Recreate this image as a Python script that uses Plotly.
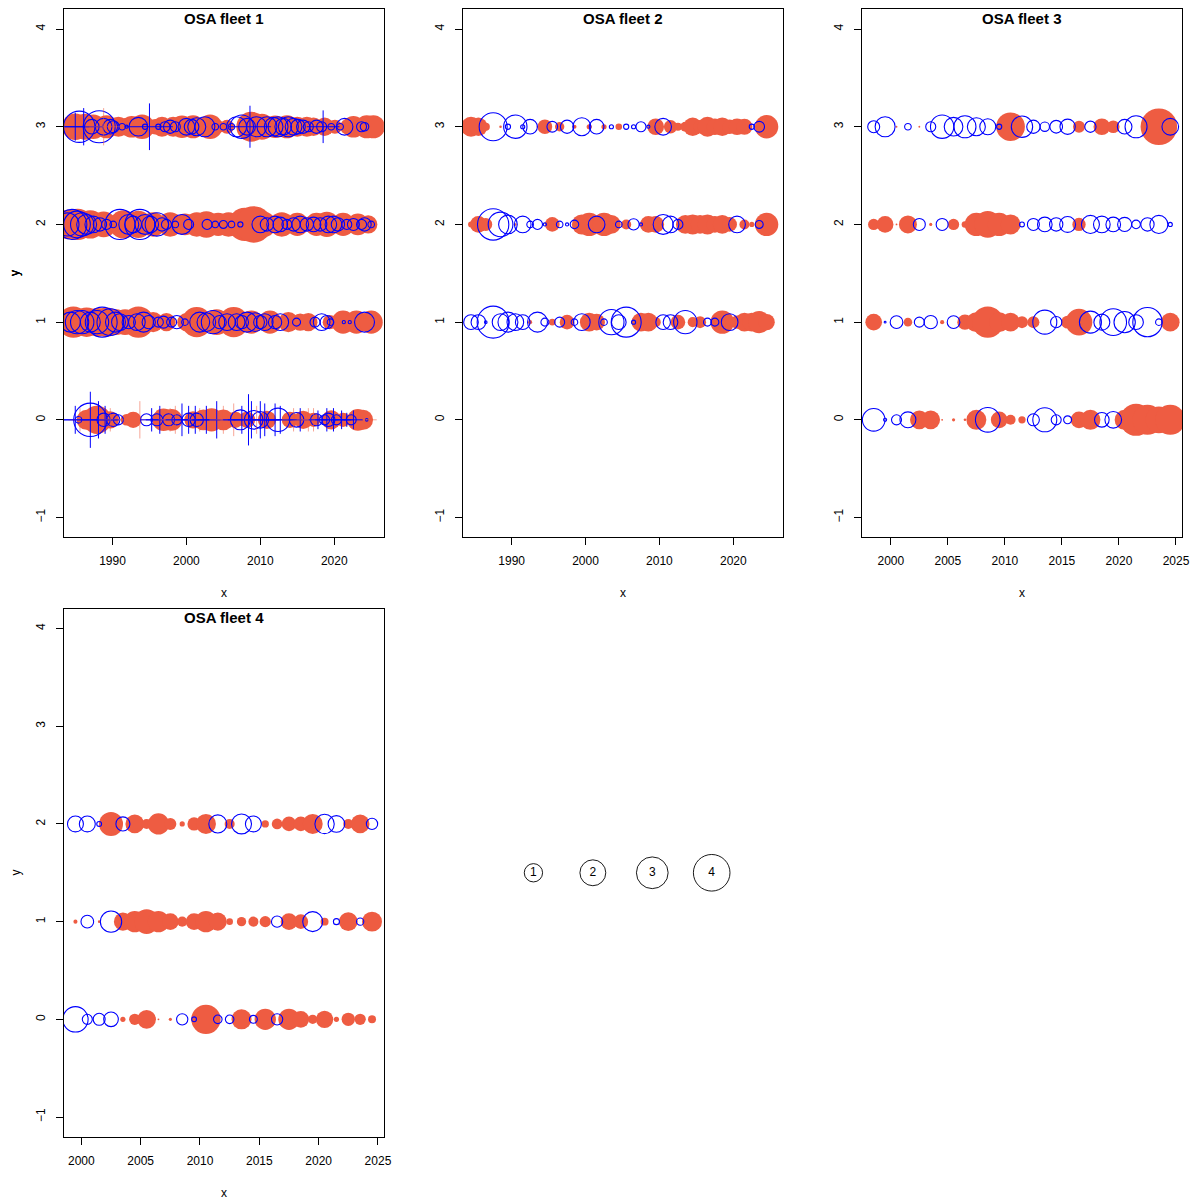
"""OSA residual bubble plots, four fleets + size key."""
import numpy as np
import plotly.graph_objects as go

# ---- fleet 1 (irregular sampling): x positions and residuals per age row ----
F1_X3 = [1984.96, 1985.5, 1986.3, 1987.2, 1987.4, 1988.2, 1988.8, 1989.2, 1989.7, 1990.1,
         1990.8, 1991.3, 1991.7, 1991.9, 1992.6, 1993.5, 1994.0, 1994.4, 1995.8, 1996.2,
         1996.7, 1997.1, 1997.8, 1998.2, 1998.5, 1999.4, 2000.0, 2000.7, 2000.9, 2001.4,
         2002.5, 2003.2, 2003.9, 2004.3, 2005.0, 2005.5, 2006.1, 2006.8, 2007.5, 2008.2,
         2008.8, 2009.5, 2010.2, 2010.9, 2011.8, 2012.0, 2012.4, 2013.1, 2013.6, 2013.8,
         2014.5, 2015.0, 2015.1, 2015.8, 2016.3, 2016.5, 2017.2, 2017.6, 2018.3, 2018.7,
         2019.6, 2020.1, 2020.8, 2021.4, 2021.9, 2022.6, 2023.7, 2024.1, 2024.4, 2025.3]
F1_V3 = [-2.1, 2.93, -2.0, 0.64, -1.8, 3.06, 0.83, -1.6, 0.64, 0.43,
         -1.2, 0.13, -0.9, 0.03, -1.4, 1.04, -1.8, 0.08, -0.7, 0.08,
         -1.2, 0.30, 0.53, -1.2, 0.30, -1.5, 0.83, 0.64, -1.6, 0.97,
         1.19, -1.8, 0.13, -0.5, 0.13, -0.6, 0.13, 1.19, 1.63, 0.83,
         -2.7, 1.19, -2.0, 1.19, 1.04, -1.5, 1.19, 0.83, -1.6, 1.19,
         0.83, -1.2, 0.64, 0.53, -1.2, 0.30, -1.0, 0.53, 0.30, -1.0,
         0.13, -0.6, 0.13, 0.83, -0.8, -1.4, 0.30, 0.22, -1.6, -1.6]

F1_X2 = [1983.9, 1984.0, 1984.5, 1985.2, 1985.3, 1985.9, 1986.5, 1987.0, 1987.4, 1988.3,
         1988.8, 1989.2, 1990.1, 1991.0, 1991.5, 1992.2, 1992.8, 1993.5, 1993.7, 1994.4,
         1995.1, 1995.5, 1996.0, 1996.7, 1997.3, 1997.8, 1998.5, 1999.4, 1999.8, 2000.3,
         2001.4, 2002.7, 2002.8, 2003.9, 2004.3, 2005.0, 2005.7, 2006.1, 2007.3, 2007.9,
         2009.1, 2010.0, 2010.4, 2010.9, 2012.0, 2012.7, 2012.9, 2013.6, 2014.5, 2015.0,
         2015.4, 2016.3, 2017.2, 2017.6, 2018.1, 2019.0, 2019.2, 2019.9, 2020.5, 2021.2,
         2021.7, 2022.6, 2023.2, 2023.7, 2024.1, 2024.6, 2025.0]
F1_V2 = [1.60, -2.6, 2.69, 2.12, -2.9, 1.63, 1.19, -2.4, 0.83, 0.53,
         -2.0, 0.30, 0.13, 2.69, -2.4, 1.19, 0.83, -2.2, 2.69, 1.19,
         0.83, -1.8, 1.63, 0.53, 0.30, -1.8, 0.13, 1.19, -1.4, 0.30,
         -1.8, -2.1, 0.30, 0.13, -1.6, 0.19, -1.8, 0.13, 0.08, -3.3,
         -4.0, 0.83, -2.0, 0.53, 0.83, 0.64, -1.8, 0.30, 0.53, -1.6,
         0.83, 0.53, 0.64, -1.6, 0.53, -1.9, 0.83, 0.83, 0.53, -1.6,
         0.30, 0.43, -1.4, 0.30, 0.53, -1.0, 0.13]

F1_X1 = [1984.3, 1984.7, 1985.2, 1985.9, 1986.5, 1987.0, 1987.9, 1988.0, 1988.6, 1989.2,
         1989.7, 1990.4, 1990.5, 1991.0, 1991.7, 1992.2, 1993.3, 1993.5, 1994.2, 1994.9,
         1995.5, 1996.2, 1996.9, 1997.3, 1998.0, 1998.7, 1999.8, 2000.0, 2001.4, 2001.8,
         2002.7, 2003.6, 2004.1, 2004.5, 2005.5, 2006.4, 2006.8, 2007.5, 2008.2, 2008.8,
         2009.3, 2010.0, 2010.6, 2011.3, 2012.0, 2012.7, 2013.8, 2014.9, 2015.4, 2016.5,
         2017.4, 2018.3, 2019.0, 2019.4, 2019.5, 2021.2, 2021.3, 2022.1, 2023.0, 2024.1,
         2025.0]
F1_V1 = [1.19, -2.9, 1.63, 1.63, -2.6, 1.19, 1.63, -2.4, 2.69, -2.6,
         2.12, 1.19, -2.0, 0.83, -2.0, 0.53, 0.83, -2.9, 1.19, 0.53,
         -1.2, 0.30, 0.43, -1.0, 0.30, 0.53, 0.13, -1.0, -2.7, 1.19,
         1.04, 1.63, -2.0, 0.53, 0.83, -2.7, 0.83, 0.53, 1.19, -1.6,
         1.04, 0.53, 0.83, -1.6, 0.53, 0.83, -1.2, 0.19, -0.9, -1.0,
         0.30, 0.83, 0.53, -0.6, 0.13, -1.6, 0.03, 0.03, -1.6, 1.19,
         -1.6]

F1_X0 = [1985.4, 1986.5, 1987.0, 1987.9, 1988.8, 1989.7, 1990.1, 1990.8, 1991.9, 1992.8,
         1994.6, 1996.0, 1996.9, 1997.6, 1998.0, 1998.7, 2000.3, 2000.9, 2001.4, 2002.3,
         2003.4, 2005.0, 2006.6, 2007.3, 2008.2, 2009.1, 2010.0, 2010.9, 2012.4, 2014.0,
         2014.9, 2015.8, 2017.2, 2017.6, 2018.7, 2019.2, 2019.6, 2020.3, 2021.2, 2022.3,
         2023.2, 2023.9, 2024.4]
F1_V0 = [0.13, -1.2, 3.32, -2.4, 0.53, -0.9, 0.53, 0.30, -0.4, -0.8,
         0.43, 0.43, -1.5, 0.43, -1.4, 0.30, 0.53, -0.9, 0.53, -1.3,
         -1.6, -1.3, -0.8, 1.19, -0.8, 1.04, 0.83, -1.0, 1.63, -0.8,
         0.64, -1.0, -0.6, 0.43, 0.30, 0.53, -1.1, 0.30, -0.6, 0.30,
         -1.4, -1.2, 0.02]

# fleet 1 points drawn as "+" symbols
F1_CROSS_X = [1984.96, 1986.1, 1988.8, 1995.0, 2008.6, 2018.5,
              1984.96, 1985.6, 1987.0, 1988.1, 1989.0, 1989.7, 1993.7, 1995.3, 1996.4, 1997.8,
              1998.5, 1999.4, 2000.3, 2001.2, 2001.8, 2002.7, 2004.1, 2005.0, 2006.4, 2007.5,
              2008.4, 2008.8, 2009.5, 2010.0, 2010.6, 2012.0, 2012.7, 2014.5, 2015.4, 2016.5,
              2017.2, 2017.8, 2019.0, 2019.9, 2021.0, 2021.7, 2022.6, 2024.8]
F1_CROSS_Y = [3, 3, 3, 3, 3, 3,
              0, 0, 0, 0, 0, 0, 0, 0, 0, 0,
              0, 0, 0, 0, 0, 0, 0, 0, 0, 0,
              0, 0, 0, 0, 0, 0, 0, 0, 0, 0,
              0, 0, 0, 0, 0, 0, 0, 0]
F1_CROSS_V = [1.19, 2.12, -2.12, 3.32, 2.69, 1.63,
              1.19, -0.83, 4.8, 2.12, 1.19, -0.83, -2.12, 0.83, 1.19, -0.83,
              -1.19, 1.63, 1.19, 1.19, -0.83, 1.19, 2.12, -1.19, -1.63, 1.19,
              4.0, 2.12, -1.19, 2.12, 1.63, 1.63, 1.19, -0.83, 0.83, -0.83,
              -0.83, 0.53, 0.83, 0.83, 0.53, 0.30, 0.53, -0.30]

# ---- fleet 2: one point per year ----
F2_YEARS = [1984.5 + k for k in range(41)]
F2_AGE3 = [-1.19, -1.0, -0.2, 2.34, -0.02, 0.08, 1.63, 0.05, 0.64, -0.01,
           -0.64, 0.34, -0.26, 0.53, -0.05, 0.97, -0.08, 0.64, -0.08, 0.05,
           -0.13, 0.08, 0.05, 0.30, 0.03, -0.83, 0.83, -0.53, -0.19, -0.30,
           -1.04, -0.53, -1.19, -0.83, -1.04, -0.64, -0.83, -0.76, 0.08, 0.34, -1.63]
F2_AGE2 = [-0.10, -0.83, -0.50, 2.93, 1.82, 1.04, -0.02, 0.83, 0.13, 0.30,
           0.03, -0.64, 0.13, 0.03, 0.22, -1.19, -1.63, 0.83, -1.63, -1.04,
           0.13, -0.30, 0.38, 0.03, -0.83, -0.83, 1.19, 0.83, 0.30, -1.04,
           -1.19, -1.04, -1.19, -0.83, -1.04, -0.64, 0.83, -0.30, -0.08, 0.19, -1.63]
F2_AGE1 = [0.64, 0.64, 0.02, 3.06, 0.83, 1.19, 0.83, 0.64, -0.05, 1.19,
           0.19, -0.13, 0.30, -0.64, 0.13, 0.83, -1.04, -0.83, 0.13, 1.90,
           0.64, 2.69, 0.05, -1.04, -1.04, -0.30, 0.64, 0.64, -0.64, 1.63,
           -0.30, -0.43, 0.19, 0.19, -1.63, 0.83, -0.53, -1.04, -1.04, -1.45, -0.80]

# ---- fleet 3 ----
F3_YEARS = [1998.5 + k for k in range(27)]
F3_AGE3 = [0.43, 1.19, -0.01, 0.13, -0.01, 0.30, 1.63, 1.04, 1.45, 0.97,
           0.76, 0.08, -2.45, 1.36, 0.53, 0.26, 0.48, 0.70, -0.43, 0.38,
           -0.83, -0.48, 0.64, 1.45, -0.50, -4.00, 0.83]
F3_AGE2 = [-0.38, -0.83, -0.01, -0.97, 0.43, -0.03, 0.43, -0.38, -0.13, -1.63,
           -2.12, -1.63, -1.19, 0.07, 0.43, 0.64, 0.53, 0.76, -0.53, 0.97,
           0.83, 0.64, 0.59, 0.22, 0.53, 0.97, 0.05]
F3_AGE1 = [-0.83, 0.01, 0.48, -0.22, 0.30, 0.53, -0.05, 0.48, -0.70, -1.19,
           -2.93, -1.19, -1.04, -0.43, -0.43, 1.72, 0.38, -0.50, -2.12, 1.45,
           0.76, 2.12, 1.36, 0.64, 2.57, 0.13, -1.04]
F3_AGE0 = [1.53, 0.03, 0.30, 0.76, -1.04, -1.04, -0.01, -0.03, -0.02, -1.19,
           1.82, -0.83, -0.30, -0.16, 0.43, 1.72, 0.30, 0.19, -0.83, -1.19,
           0.64, 0.83, -1.19, -3.06, -2.69, -2.12, -2.69]

# ---- fleet 4 ----
F4_YEARS = [1999.5 + k for k in range(26)]
F4_AGE2 = [0.76, 0.76, 0.07, -1.72, 0.59, -1.04, -0.30, -1.36, -0.43, -0.08,
           -0.53, -1.19, 0.97, -0.30, 1.19, 0.76, -0.16, -0.34, -0.64, -0.64,
           -1.19, 1.12, 0.83, -0.30, -1.04, 0.38]
F4_AGE1 = [-0.05, 0.48, -0.02, 1.36, -0.97, -1.36, -1.82, -1.36, -0.83, -0.30,
           -0.83, -1.36, -0.97, -0.13, -0.26, -0.30, -0.38, 0.38, -0.83, -0.64,
           1.19, -0.19, 0.11, -1.04, 0.16, -1.19]
F4_AGE0 = [1.92, 0.30, 0.43, 0.64, -0.08, -0.38, -1.04, -0.01, -0.03, 0.38,
           0.07, -2.57, 0.22, 0.22, -1.19, 0.19, -1.36, 0.38, -1.36, -0.83,
           -0.26, -0.90, -0.08, -0.53, -0.38, -0.19]

KEY_VALUES = [1, 2, 3, 4]

# ---- style ----
RED = "#EE5C42"
RED_LIGHT = "rgba(238,92,66,0.55)"
BLUE = "#0000FF"
SCALE = 18.3          # marker diameter (px) for |residual| = 1
FONT = "Liberation Sans, Arial, Helvetica, sans-serif"
W = H = 1200
# page offset of the rendered figure (body margin), used to place things in screen pixels
OFF_X, OFF_Y, SX = 7.3, 7.5, 0.9955

COLS = [(63, 384), (463, 784), (863, 1184)]
ROWS = [(8, 536), (608, 1136)]


def px_x(p):
    return (p - OFF_X) / SX / W


def px_y(p):
    return 1 - (p - OFF_Y) / H


def size_of(v):
    return SCALE * np.sqrt(np.abs(np.asarray(v, dtype=float)))


def add_bubbles(fig, xs, ys, vs, n):
    xs, ys, vs = np.asarray(xs), np.asarray(ys), np.asarray(vs)
    neg = vs < 0
    ax = dict(xaxis=f"x{n}", yaxis=f"y{n}")
    fig.add_trace(go.Scatter(x=xs[neg], y=ys[neg], mode="markers", hoverinfo="skip",
                             marker=dict(symbol="circle", size=size_of(vs[neg]), color=RED,
                                         opacity=1, line=dict(width=0)), **ax))
    fig.add_trace(go.Scatter(x=xs[~neg], y=ys[~neg], mode="markers", hoverinfo="skip",
                             marker=dict(symbol="circle-open", size=size_of(vs[~neg]), color=BLUE,
                                         opacity=1, line=dict(width=1.1)), **ax))


fig = go.Figure()

# fleet 1
f1_x = F1_X3 + F1_X2 + F1_X1 + F1_X0
f1_y = [3] * len(F1_X3) + [2] * len(F1_X2) + [1] * len(F1_X1) + [0] * len(F1_X0)
f1_v = F1_V3 + F1_V2 + F1_V1 + F1_V0
add_bubbles(fig, f1_x, f1_y, f1_v, 1)
cross_cols = [BLUE if v > 0 else RED_LIGHT for v in F1_CROSS_V]
fig.add_trace(go.Scatter(x=F1_CROSS_X, y=F1_CROSS_Y, mode="markers", hoverinfo="skip",
                         marker=dict(symbol="cross-thin", size=size_of(F1_CROSS_V), opacity=1,
                                     color=cross_cols, line=dict(width=1, color=cross_cols)),
                         xaxis="x1", yaxis="y1"))

# fleet 2
add_bubbles(fig, F2_YEARS * 3, [3] * 41 + [2] * 41 + [1] * 41, F2_AGE3 + F2_AGE2 + F2_AGE1, 2)
# fleet 3
add_bubbles(fig, F3_YEARS * 4, [3] * 27 + [2] * 27 + [1] * 27 + [0] * 27,
            F3_AGE3 + F3_AGE2 + F3_AGE1 + F3_AGE0, 3)
# fleet 4
add_bubbles(fig, F4_YEARS * 3, [2] * 26 + [1] * 26 + [0] * 26, F4_AGE2 + F4_AGE1 + F4_AGE0, 4)

# size key
fig.add_trace(go.Scatter(x=KEY_VALUES, y=[0] * 4, mode="markers+text", hoverinfo="skip",
                         text=[str(v) for v in KEY_VALUES], textposition="middle center",
                         textfont=dict(family=FONT, size=12, color="black"),
                         marker=dict(symbol="circle-open", size=size_of(KEY_VALUES), color="black",
                                     opacity=1, line=dict(width=0.9)),
                         xaxis="x5", yaxis="y5"))

panels = [
    (1, COLS[0], ROWS[0], [1983.38, 2026.72], [1990, 2000, 2010, 2020], "OSA fleet 1"),
    (2, COLS[1], ROWS[0], [1983.38, 2026.72], [1990, 2000, 2010, 2020], "OSA fleet 2"),
    (3, COLS[2], ROWS[0], [1997.46, 2025.54], [2000, 2005, 2010, 2015, 2020, 2025], "OSA fleet 3"),
    (4, COLS[0], ROWS[1], [1998.5, 2025.5], [2000, 2005, 2010, 2015, 2020, 2025], "OSA fleet 4"),
]

layout = dict(width=W, height=H, margin=dict(l=0, r=0, t=0, b=0),
              paper_bgcolor="white", plot_bgcolor="white", showlegend=False,
              font=dict(family=FONT, size=12, color="black"))
annotations = []
axis_common = dict(showgrid=False, zeroline=False, showline=True, mirror=True,
                   linecolor="black", linewidth=1, ticks="outside", ticklen=7,
                   tickwidth=1, tickcolor="black", tickfont=dict(family=FONT, size=12))

for n, (x0, x1), (y0, y1), xr, xt, title in panels:
    layout[f"xaxis{n}"] = dict(domain=[px_x(x0), px_x(x1)], range=xr, tickvals=xt,
                               anchor=f"y{n}", ticklabelstandoff=6, **axis_common)
    layout[f"yaxis{n}"] = dict(domain=[px_y(y1), px_y(y0)], range=[-1.2, 4.2],
                               tickvals=[-1, 0, 1, 2, 3, 4], tickangle=-90,
                               anchor=f"x{n}", ticklabelstandoff=6, **axis_common)
    cx = px_x((x0 + x1) / 2)
    annotations.append(dict(text=f"<b>{title}</b>", x=cx, y=px_y(y0 + 9), xref="paper",
                            yref="paper", showarrow=False, xanchor="center", yanchor="middle",
                            font=dict(family=FONT, size=15, color="black")))
    annotations.append(dict(text="x", x=cx, y=px_y(y1 + 56), xref="paper", yref="paper",
                            showarrow=False, xanchor="center", yanchor="middle",
                            font=dict(family=FONT, size=12)))
    annotations.append(dict(text="y", x=px_x(15), y=px_y((y0 + y1) / 2), xref="paper",
                            yref="paper", showarrow=False, textangle=-90, xanchor="center",
                            yanchor="middle", font=dict(family=FONT, size=12)))

layout["xaxis5"] = dict(domain=[px_x(463), px_x(784)], range=[-0.19, 5.2], visible=False,
                        anchor="y5")
layout["yaxis5"] = dict(domain=[px_y(1136), px_y(608)], range=[-1, 1], visible=False,
                        anchor="x5")
layout["annotations"] = annotations

fig.update_layout(**layout)
fig.write_html("out.html")
